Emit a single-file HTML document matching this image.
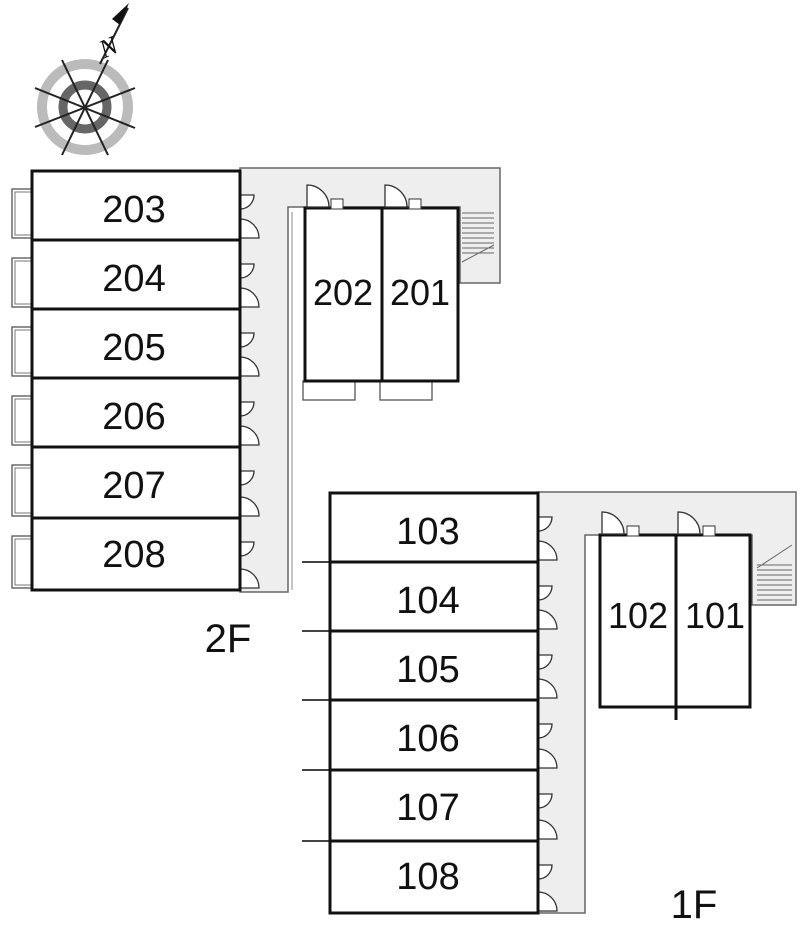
<!DOCTYPE html>
<html><head><meta charset="utf-8"><style>
html,body{margin:0;padding:0;background:#fff;width:800px;height:940px;overflow:hidden}
svg text{font-family:"Liberation Sans",sans-serif;fill:#111}
</style></head><body>
<svg id="s" width="800" height="940" viewBox="0 0 800 940" xmlns="http://www.w3.org/2000/svg">
<!-- compass -->
<g>
<circle cx="85" cy="107" r="43" fill="none" stroke="#bbb" stroke-width="10"/>
<circle cx="85" cy="107" r="22" fill="none" stroke="#666" stroke-width="9"/>
<g stroke="#222" stroke-width="2">
<line x1="62" y1="60" x2="108" y2="155"/>
<line x1="108" y1="60" x2="62" y2="155"/>
<line x1="35" y1="88" x2="135" y2="128"/>
<line x1="35" y1="127" x2="135" y2="88"/>
<line x1="100" y1="64" x2="128" y2="8"/>
</g>
<polygon points="129,3 120,25 112,19" fill="#111"/>
<text transform="translate(112,55) rotate(-25)" x="0" y="0" text-anchor="middle" font-size="26" font-style="italic" font-family="Liberation Serif" style="font-family:'Liberation Serif',serif">N</text>
</g>

<!-- 2F corridor -->
<path d="M240,168 H500 V283 H460 V207 H288 V592 H240 Z" fill="#eee" stroke="#666" stroke-width="1.5"/>
<line x1="292" y1="212" x2="292" y2="590" stroke="#888"/>
<!-- 1F corridor -->
<path d="M538,492 H796 V605 H752 V535 H585 V913 H538 Z" fill="#eee" stroke="#666" stroke-width="1.5"/>

<g id="g"></g>

<!-- labels -->
<g font-size="38" text-anchor="middle">
<text x="134" y="222">203</text><text x="134" y="291">204</text><text x="134" y="360">205</text>
<text x="134" y="429">206</text><text x="134" y="498">207</text><text x="134" y="567">208</text>
<text x="343" y="305" font-size="36">202</text><text x="420" y="305" font-size="36">201</text>
<text x="428" y="544">103</text><text x="428" y="613">104</text><text x="428" y="682">105</text>
<text x="428" y="751">106</text><text x="428" y="820">107</text><text x="428" y="889">108</text>
<text x="638" y="628" font-size="36">102</text><text x="715" y="628" font-size="36">101</text>
<text x="228" y="652" font-size="40">2F</text>
<text x="694" y="918" font-size="40">1F</text>
</g>
</svg>
<script>
var g=document.getElementById('g'),h='';
function L(a,b,c,d,w,col){h+='<line x1="'+a+'" y1="'+b+'" x2="'+c+'" y2="'+d+'" stroke="'+(col||'#111')+'" stroke-width="'+(w||3)+'"/>';}
function R(x,y,w,hh,sw,f,col){h+='<rect x="'+x+'" y="'+y+'" width="'+w+'" height="'+hh+'" fill="'+(f||'#fff')+'" stroke="'+(col||'#111')+'" stroke-width="'+sw+'"/>';}
function door(x,y,r){h+='<path d="M'+x+','+y+' v'+(-r)+' a'+r+','+r+' 0 0 1 '+r+','+r+' Z" fill="#fff" stroke="#333" stroke-width="1.3"/>';}
function doorT(x,y,r){h+='<path d="M'+x+','+y+' h'+r+' a'+r+','+r+' 0 0 1 '+(-r)+','+r+' Z" fill="#fff" stroke="#333" stroke-width="1.3"/>';}
var ys=[171,240,309,378,447,518,590];
for(var i=0;i<6;i++){var t=ys[i],b=ys[i+1];
 R(12,t+18,20,b-t-20,1.3,'#fff','#555');R(15,t+21,17,b-t-26,1,'#fff','#777');
 doorT(240,t+24,14);door(240,b-2,19);}
R(32,171,208,419,3,'none');
for(i=1;i<6;i++)L(32,ys[i],240,ys[i],3);
R(303,381,52,19,1.3,'#fff','#555');R(380,381,52,19,1.3,'#fff','#555');
R(305,208,153,173,3,'#fff');L(382,208,382,381,3);
door(307,207,22);door(385,207,22);
h+='<rect x="331" y="199" width="12" height="10" fill="#fff" stroke="#333"/><rect x="409" y="199" width="12" height="10" fill="#fff" stroke="#333"/>';
for(var k=0;k<9;k++)L(462,213+k*5,494,213+k*5,1,'#666');
L(462,262,494,245,1,'#666');
var y1=[493,562,631,700,770,841,913];
for(i=0;i<6;i++){var t=y1[i],b=y1[i+1];doorT(538,t+24,14);door(538,b-2,19);
 if(i>0)L(302,t,330,t,2,'#444');}
L(302,631,330,631,2,'#444');
R(330,493,208,420,3,'none');
for(i=1;i<6;i++)L(330,y1[i],538,y1[i],3);
R(600,535,150,172,3,'#fff');L(676,535,676,720,3);
door(602,534,22);door(678,534,22);
h+='<rect x="627" y="526" width="12" height="10" fill="#fff" stroke="#333"/><rect x="703" y="526" width="12" height="10" fill="#fff" stroke="#333"/>';
for(k=0;k<9;k++)L(757,565+k*5,792,565+k*5,1,'#666');
L(757,568,792,545,1,'#666');
g.innerHTML=h;
</script>
</body></html>
